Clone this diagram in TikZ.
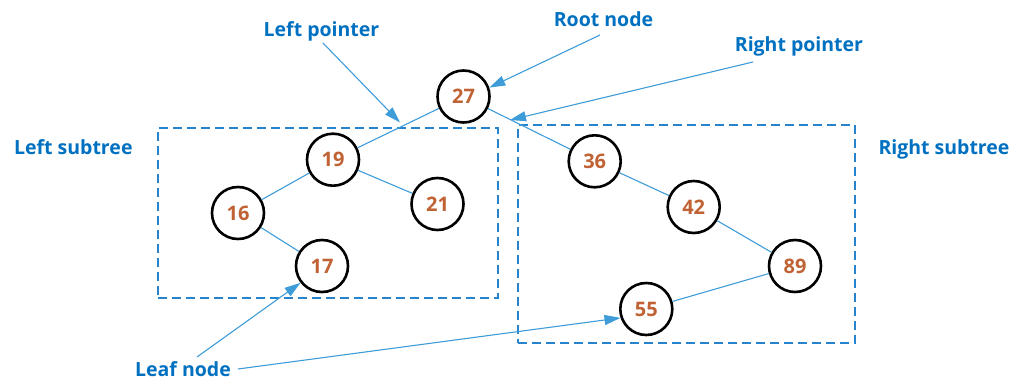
\documentclass[tikz,border=0pt]{standalone}
\usepackage{fontspec}
\setmainfont{Open Sans}
\usetikzlibrary{arrows.meta}
\definecolor{lblblue}{RGB}{0,112,192}
\definecolor{linkblue}{RGB}{62,156,217}
\definecolor{boxblue}{RGB}{38,132,206}
\definecolor{numbrown}{RGB}{192,98,52}
\begin{document}
\begin{tikzpicture}[x=1pt,y=-1pt,
  lbl/.style={font=\fontsize{19.5}{22}\selectfont\bfseries, text=lblblue, inner sep=0pt, anchor=base},
  tnode/.style={circle, draw=black, line width=2.6pt, fill=white, minimum size=52pt, inner sep=0pt,
    font=\fontsize{20}{22}\selectfont\bfseries, text=numbrown},
  edge/.style={draw=linkblue, line width=1.1pt},
  pointer/.style={draw=linkblue, line width=1.1pt, -{Triangle[length=16pt,width=10pt]}},
  dashbox/.style={rectangle, draw=boxblue, line width=1.7pt, dash pattern=on 9pt off 5pt, inner sep=0pt, anchor=north west}]
\useasboundingbox (0,0) rectangle (1027,379);

% subtree boxes
\node[dashbox, minimum width=340pt, minimum height=170pt] (lbox) at (157,127) {};
\node[dashbox, minimum width=337pt, minimum height=218pt] (rbox) at (517,124) {};

% tree nodes
\node[tnode] (n27) at (463.5,96.5) {27};
\node[tnode] (n19) at (333,159.7) {19};
\node[tnode] (n16) at (238,213) {16};
\node[tnode] (n21) at (437.5,204) {21};
\node[tnode] (n17) at (322,266) {17};
\node[tnode] (n36) at (594.7,161.3) {36};
\node[tnode] (n42) at (693.7,207) {42};
\node[tnode] (n89) at (795,266) {89};
\node[tnode] (n55) at (646.3,309) {55};

% edges
\draw[edge] (n27) -- (n19);
\draw[edge] (n19) -- (n16);
\draw[edge] (n19) -- (n21);
\draw[edge] (n16) -- (n17);
\draw[edge] (n27) -- (n36);
\draw[edge] (n36) -- (n42);
\draw[edge] (n42) -- (n89);
\draw[edge] (n89) -- (n55);

% labels
\node[lbl] (lLP) at (321.5,37) {Left pointer};
\node[lbl] (lRN) at (603.5,27) {Root node};
\node[lbl] (lRP) at (799,51.7) {Right pointer};
\node[lbl] (lLS) at (73.3,155) {Left subtree};
\node[lbl] (lRS) at (944,155) {Right subtree};
\node[lbl] (lLN) at (183,376) {Leaf node};

% pointer anchors
\coordinate (lpS) at (323,43);
\coordinate (lpE) at (400,122.5);
\coordinate (rnS) at (600,35);
\coordinate (rpS) at (753,62);
\coordinate (rpE) at (510,120);
\coordinate (ln1S) at (197,357);
\coordinate (ln2S) at (238,369);

\draw[pointer] (lpS) -- (lpE);
\draw[pointer] (rnS) -- (n27.19);
\draw[pointer] (rpS) -- (rpE);
\draw[pointer] (ln1S) -- (n17.218);
\draw[pointer] (ln2S) -- (n55.199);
\end{tikzpicture}
\end{document}
